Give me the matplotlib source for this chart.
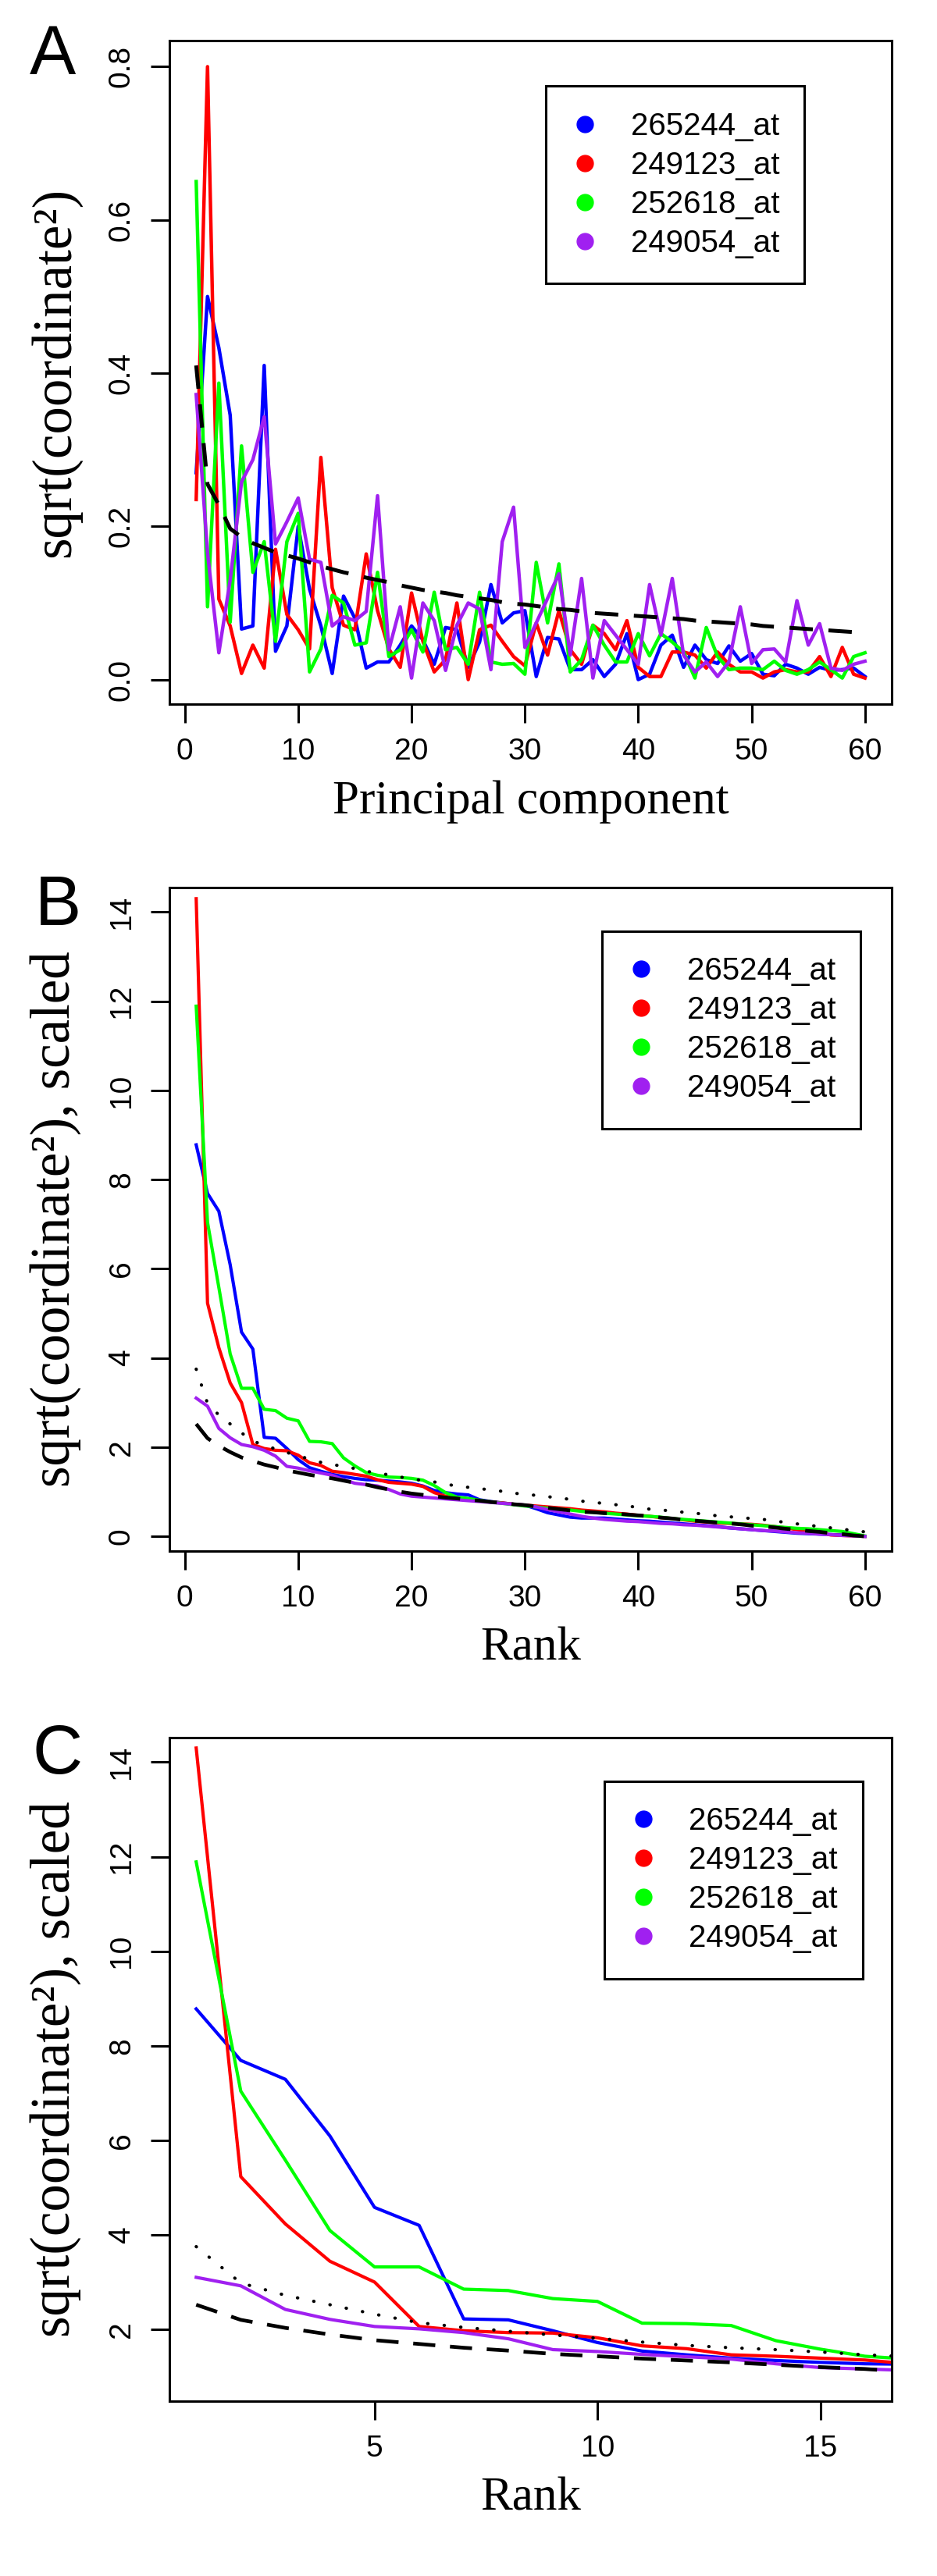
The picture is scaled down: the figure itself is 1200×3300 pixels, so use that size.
import matplotlib
matplotlib.use('Agg')
import matplotlib.pyplot as plt
from matplotlib.lines import Line2D
from matplotlib.ticker import FormatStrFormatter
import numpy as np

plt.rcParams['font.family'] = ['Liberation Sans', 'DejaVu Sans']

probes = ['265244_at', '249123_at', '252618_at', '249054_at']
colours = ['#0000FF', '#FF0000', '#00FF00', '#A020F0']

# panel A: sqrt(coordinate^2) per principal component
pc = np.arange(1, 61)
blue_a = [0.27, 0.50, 0.433, 0.345, 0.066, 0.07, 0.41, 0.037, 0.07, 0.20,
          0.118, 0.07, 0.008, 0.109, 0.08, 0.015, 0.023, 0.023, 0.045, 0.07,
          0.052, 0.02, 0.068, 0.065, 0.016, 0.049, 0.124, 0.074, 0.087, 0.09,
          0.004, 0.055, 0.053, 0.013, 0.013, 0.026, 0.004, 0.02, 0.06, 0.0,
          0.007, 0.045, 0.058, 0.016, 0.045, 0.026, 0.021, 0.044, 0.024, 0.034,
          0.007, 0.005, 0.02, 0.015, 0.007, 0.016, 0.012, 0.013, 0.015, 0.004]
red_a = [0.235, 0.80, 0.105, 0.07, 0.008, 0.045, 0.015, 0.17, 0.085, 0.065,
         0.04, 0.29, 0.12, 0.071, 0.065, 0.164, 0.09, 0.04, 0.016, 0.113,
         0.05, 0.01, 0.026, 0.10, 0.0, 0.065, 0.071, 0.05, 0.03, 0.018,
         0.074, 0.032, 0.09, 0.039, 0.02, 0.071, 0.06, 0.039, 0.077, 0.016,
         0.004, 0.004, 0.036, 0.036, 0.032, 0.015, 0.036, 0.02, 0.01, 0.01,
         0.002, 0.01, 0.013, 0.01, 0.01, 0.03, 0.004, 0.042, 0.007, 0.002]
green_a = [0.65, 0.095, 0.387, 0.075, 0.305, 0.14, 0.18, 0.05, 0.18, 0.217,
           0.01, 0.04, 0.11, 0.10, 0.045, 0.048, 0.14, 0.03, 0.039, 0.065,
           0.036, 0.114, 0.039, 0.042, 0.02, 0.114, 0.023, 0.02, 0.021, 0.007,
           0.153, 0.074, 0.151, 0.01, 0.026, 0.071, 0.045, 0.023, 0.023, 0.06,
           0.031, 0.06, 0.049, 0.036, 0.002, 0.068, 0.03, 0.013, 0.015, 0.015,
           0.013, 0.024, 0.012, 0.007, 0.013, 0.023, 0.013, 0.002, 0.03, 0.035]
purple_a = [0.372, 0.165, 0.035, 0.13, 0.258, 0.287, 0.343, 0.177, 0.206, 0.237,
            0.157, 0.153, 0.07, 0.082, 0.077, 0.089, 0.24, 0.039, 0.095, 0.002,
            0.10, 0.077, 0.012, 0.071, 0.10, 0.092, 0.013, 0.18, 0.225, 0.042,
            0.074, 0.106, 0.138, 0.032, 0.132, 0.002, 0.077, 0.058, 0.039, 0.02,
            0.124, 0.058, 0.132, 0.032, 0.01, 0.023, 0.004, 0.023, 0.095, 0.021,
            0.039, 0.04, 0.023, 0.103, 0.045, 0.073, 0.015, 0.012, 0.02, 0.024]
dashed_a = [0.41, 0.255, 0.228, 0.197, 0.186, 0.178, 0.172, 0.166, 0.162, 0.158,
            0.153, 0.148, 0.144, 0.14, 0.137, 0.133, 0.13, 0.127, 0.123, 0.12,
            0.117, 0.115, 0.113, 0.11, 0.108, 0.106, 0.104, 0.101, 0.099, 0.098,
            0.096, 0.094, 0.092, 0.091, 0.089, 0.087, 0.086, 0.085, 0.084, 0.083,
            0.082, 0.081, 0.08, 0.079, 0.077, 0.076, 0.075, 0.074, 0.073, 0.072,
            0.07, 0.069, 0.068, 0.067, 0.066, 0.065, 0.064, 0.063, 0.062, 0.06]

# panels B and C: sorted, scaled values by rank
rank = np.arange(1, 61)
blue_b = [8.78, 7.69, 7.29, 6.09, 4.58, 4.2, 2.22, 2.2, 1.97, 1.72,
          1.54, 1.46, 1.39, 1.34, 1.3, 1.27, 1.26, 1.24, 1.22, 1.19,
          1.13, 1.03, 0.98, 0.95, 0.93, 0.82, 0.78, 0.75, 0.72, 0.70,
          0.62, 0.53, 0.48, 0.43, 0.41, 0.41, 0.41, 0.39, 0.37, 0.35,
          0.34, 0.32, 0.30, 0.28, 0.26, 0.24, 0.22, 0.19, 0.17, 0.15,
          0.13, 0.11, 0.09, 0.07, 0.06, 0.05, 0.04, 0.03, 0.02, 0.0]
red_b = [14.3, 5.23, 4.23, 3.44, 3.0, 2.06, 1.97, 1.93, 1.92, 1.82,
         1.65, 1.59, 1.46, 1.43, 1.39, 1.35, 1.27, 1.21, 1.19, 1.17,
         1.12, 0.98, 0.9, 0.86, 0.83, 0.8, 0.77, 0.75, 0.72, 0.70,
         0.68, 0.66, 0.64, 0.62, 0.59, 0.57, 0.55, 0.52, 0.50, 0.47,
         0.45, 0.42, 0.40, 0.37, 0.34, 0.32, 0.30, 0.29, 0.28, 0.27,
         0.25, 0.22, 0.19, 0.15, 0.12, 0.08, 0.03, 0.02, 0.01, 0.0]
green_b = [11.89, 7.04, 5.58, 4.09, 3.32, 3.32, 2.85, 2.82, 2.65, 2.59,
           2.13, 2.12, 2.08, 1.76, 1.58, 1.43, 1.37, 1.33, 1.32, 1.30,
           1.26, 1.14, 0.98, 0.88, 0.85, 0.81, 0.77, 0.74, 0.71, 0.68,
           0.66, 0.63, 0.61, 0.59, 0.56, 0.54, 0.52, 0.50, 0.48, 0.46,
           0.45, 0.43, 0.40, 0.38, 0.36, 0.34, 0.32, 0.30, 0.28, 0.26,
           0.24, 0.22, 0.20, 0.18, 0.17, 0.15, 0.13, 0.11, 0.06, 0.01]
purple_b = [3.1, 2.92, 2.42, 2.21, 2.06, 2.01, 1.93, 1.8, 1.57, 1.53,
            1.47, 1.42, 1.37, 1.27, 1.19, 1.16, 1.13, 1.05, 0.95, 0.9,
            0.88, 0.86, 0.84, 0.82, 0.8, 0.78, 0.76, 0.74, 0.72, 0.70,
            0.66, 0.60, 0.55, 0.50, 0.45, 0.41, 0.38, 0.36, 0.34, 0.33,
            0.31, 0.29, 0.28, 0.26, 0.25, 0.23, 0.21, 0.19, 0.17, 0.15,
            0.13, 0.12, 0.10, 0.08, 0.07, 0.05, 0.04, 0.02, 0.01, 0.0]
dashed_b = [2.52, 2.2, 2.03, 1.89, 1.77, 1.69, 1.61, 1.55, 1.48, 1.43,
            1.38, 1.34, 1.3, 1.25, 1.2, 1.16, 1.1, 1.05, 1.0, 0.96,
            0.93, 0.90, 0.87, 0.85, 0.82, 0.80, 0.77, 0.75, 0.72, 0.70,
            0.67, 0.64, 0.61, 0.58, 0.55, 0.54, 0.52, 0.51, 0.49, 0.47,
            0.45, 0.42, 0.40, 0.37, 0.35, 0.33, 0.31, 0.29, 0.27, 0.24,
            0.22, 0.20, 0.17, 0.15, 0.12, 0.10, 0.07, 0.05, 0.02, 0.0]
dotted_b = [3.75, 2.98, 2.72, 2.52, 2.32, 2.14, 2.04, 1.96, 1.88, 1.81,
            1.73, 1.66, 1.61, 1.57, 1.52, 1.46, 1.42, 1.38, 1.33, 1.29,
            1.25, 1.22, 1.17, 1.13, 1.1, 1.07, 1.04, 1.01, 0.97, 0.94,
            0.92, 0.89, 0.86, 0.83, 0.79, 0.76, 0.74, 0.71, 0.68, 0.65,
            0.61, 0.59, 0.57, 0.54, 0.52, 0.49, 0.46, 0.44, 0.42, 0.40,
            0.38, 0.35, 0.31, 0.28, 0.25, 0.22, 0.19, 0.16, 0.13, 0.10]

xlabel_font = {'family': 'Liberation Serif', 'size': 44}
ylabel_font = {'family': 'Liberation Serif', 'size': 51}


def style_axes(ax):
    for sp in ax.spines.values():
        sp.set_linewidth(2.2)
    ax.tick_params(axis='both', length=17, width=2.2, labelsize=28,
                   top=False, right=False)
    ax.tick_params(axis='x', pad=14)
    ax.tick_params(axis='y', pad=14, labelrotation=90)
    for lab in ax.get_yticklabels():
        lab.set_verticalalignment('center')


def add_legend(ax, x_right, y_top):
    handles = [Line2D([], [], color=c, marker='o', linestyle='none', markersize=15)
               for c in colours]
    leg = ax.legend(handles, probes, loc='upper right',
                    bbox_to_anchor=(x_right, y_top), frameon=True, fancybox=False,
                    edgecolor='black', framealpha=1, fontsize=29,
                    borderpad=0.8, handlelength=0.9, handletextpad=1.0,
                    labelspacing=0.3)
    leg.get_frame().set_linewidth(2.2)


def set_labels(ax, xlabel, ylabel):
    ax.set_xlabel(xlabel, fontdict=xlabel_font)
    ax.set_ylabel(ylabel, fontdict=ylabel_font)
    ax.xaxis.set_label_coords(0.5, -0.147)
    ax.xaxis.label.set_verticalalignment('center')
    ax.yaxis.set_label_coords(-0.158, 0.5)
    ax.yaxis.label.set_verticalalignment('center')


def draw_rank(ax):
    for y, c in zip([blue_b, red_b, green_b, purple_b], colours):
        ax.plot(rank, y, color=c, lw=3.0, solid_joinstyle='round')
    ax.plot(rank, dotted_b, color='black', lw=3.0,
            linestyle=(0, (0.1, 5.0)), dash_capstyle='round')
    ax.plot(rank, dashed_b, color='black', lw=3.4, dashes=(6, 4.0))


fig = plt.figure(figsize=(12, 33), dpi=100)
left, width, height = 217 / 1200, 925 / 1200, 850 / 3300

# A
ax_a = fig.add_axes([left, 1 - 902 / 3300, width, height])
for y, c in zip([blue_a, red_a, green_a, purple_a], colours):
    ax_a.plot(pc, y, color=c, lw=3.2, solid_joinstyle='round')
ax_a.plot(pc, dashed_a, color='black', lw=3.6, dashes=(6, 4.0))
ax_a.set_xlim(-1.36, 62.36)
ax_a.set_ylim(-0.032, 0.834)
ax_a.set_xticks([0, 10, 20, 30, 40, 50, 60])
ax_a.set_yticks([0.0, 0.2, 0.4, 0.6, 0.8])
ax_a.yaxis.set_major_formatter(FormatStrFormatter('%.1f'))
style_axes(ax_a)
set_labels(ax_a, 'Principal component', 'sqrt(coordinate²)')
add_legend(ax_a, 0.901, 0.955)

# B
ax_b = fig.add_axes([left, 1 - 1987 / 3300, width, height])
draw_rank(ax_b)
ax_b.set_xlim(-1.36, 62.36)
ax_b.set_ylim(-0.33, 14.55)
ax_b.set_xticks([0, 10, 20, 30, 40, 50, 60])
ax_b.set_yticks([0, 2, 4, 6, 8, 10, 12, 14])
style_axes(ax_b)
set_labels(ax_b, 'Rank', 'sqrt(coordinate²), scaled')
add_legend(ax_b, 0.979, 0.958)

# C
ax_c = fig.add_axes([left, 1 - 3076 / 3300, width, height])
draw_rank(ax_c)
ax_c.set_xlim(0.4, 16.6)
ax_c.set_ylim(0.48, 14.52)
ax_c.set_xticks([5, 10, 15])
ax_c.set_yticks([2, 4, 6, 8, 10, 12, 14])
style_axes(ax_c)
set_labels(ax_c, 'Rank', 'sqrt(coordinate²), scaled')
add_legend(ax_c, 0.982, 0.958)

for letter, x, y in [('A', 67, 95), ('B', 74, 1185), ('C', 74, 2272)]:
    fig.text(x / 1200, 1 - y / 3300, letter, fontsize=64, ha='center',
             va='baseline', family='Liberation Sans')

fig.savefig('out.png', dpi=100)
